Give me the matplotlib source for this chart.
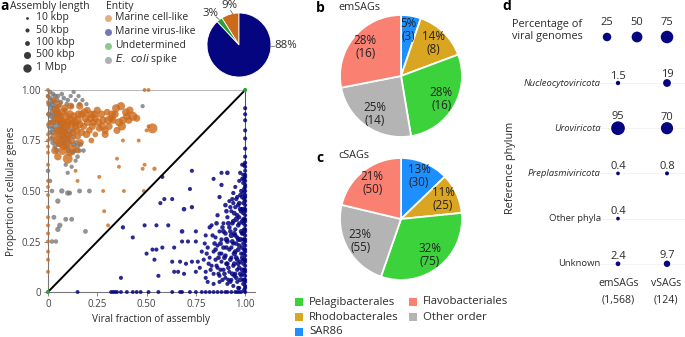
import matplotlib
matplotlib.use('Agg')
import matplotlib.pyplot as plt
import numpy as np

plt.rcParams['font.family'] = ['Open Sans', 'DejaVu Sans']

# ---------------- data ----------------
# panel a: (viral fraction, proportion cellular genes, assembly length kbp)
virus_pts = [
    # column at viral fraction = 1
    (1.0, 0.91, 50), (1.0, 0.88, 50), (1.0, 0.85, 50), (1.0, 0.80, 50), (1.0, 0.76, 50),
    (1.0, 0.71, 50), (1.0, 0.67, 50), (1.0, 0.64, 50), (1.0, 0.62, 50), (1.0, 0.60, 50),
    (1.0, 0.58, 50), (1.0, 0.57, 50), (1.0, 0.55, 50), (1.0, 0.53, 50), (1.0, 0.52, 50),
    (1.0, 0.50, 50), (1.0, 0.48, 50), (1.0, 0.47, 50), (1.0, 0.45, 50), (1.0, 0.43, 50),
    (1.0, 0.41, 50), (1.0, 0.40, 50), (1.0, 0.38, 50), (1.0, 0.36, 50), (1.0, 0.35, 50),
    (1.0, 0.33, 50), (1.0, 0.31, 50), (1.0, 0.30, 50), (1.0, 0.28, 50), (1.0, 0.26, 50),
    (1.0, 0.25, 50), (1.0, 0.23, 50), (1.0, 0.21, 50), (1.0, 0.20, 50), (1.0, 0.18, 50),
    (1.0, 0.16, 50), (1.0, 0.15, 50), (1.0, 0.13, 50), (1.0, 0.11, 50), (1.0, 0.10, 50),
    (1.0, 0.08, 50), (1.0, 0.06, 50), (1.0, 0.05, 50), (1.0, 0.03, 50), (1.0, 0.02, 50),
    (1.0, 0.0, 50),
    (0.99, 0.58, 50), (0.99, 0.54, 50), (0.99, 0.49, 50), (0.99, 0.44, 50), (0.99, 0.39, 50),
    (0.99, 0.34, 50), (0.99, 0.29, 50), (0.99, 0.24, 50), (0.99, 0.19, 50), (0.99, 0.14, 50),
    (0.99, 0.09, 50), (0.99, 0.04, 50),
    (0.995, 0.31, 60), (0.995, 0.21, 60), (0.995, 0.11, 60), (0.995, 0.01, 60), (0.995, 0.46, 60),
    (0.995, 0.51, 60), (0.995, 0.41, 60), (0.995, 0.56, 60), (0.995, 0.63, 60), (0.995, 0.36, 60),
    (0.995, 0.26, 60), (0.995, 0.16, 60), (0.995, 0.06, 60),
    # dense cloud
    (0.97, 0.44, 80), (0.95, 0.42, 60), (0.98, 0.40, 100), (0.93, 0.40, 50), (0.96, 0.38, 80),
    (0.91, 0.37, 60), (0.94, 0.35, 100), (0.97, 0.34, 60), (0.89, 0.34, 50), (0.92, 0.32, 80),
    (0.95, 0.31, 60), (0.98, 0.30, 100), (0.87, 0.30, 50), (0.90, 0.29, 80), (0.93, 0.28, 150),
    (0.96, 0.27, 60), (0.85, 0.27, 50), (0.88, 0.26, 60), (0.91, 0.25, 100), (0.94, 0.24, 60),
    (0.97, 0.23, 80), (0.86, 0.23, 50), (0.89, 0.22, 80), (0.92, 0.21, 60), (0.95, 0.20, 100),
    (0.98, 0.19, 60), (0.84, 0.20, 50), (0.87, 0.19, 60), (0.90, 0.18, 80), (0.93, 0.17, 60),
    (0.96, 0.16, 80), (0.82, 0.17, 50), (0.85, 0.16, 60), (0.88, 0.15, 50), (0.91, 0.14, 80),
    (0.94, 0.13, 60), (0.97, 0.12, 80), (0.83, 0.13, 50), (0.86, 0.12, 50), (0.89, 0.11, 60),
    (0.92, 0.10, 50), (0.95, 0.09, 60), (0.98, 0.08, 50), (0.87, 0.08, 50), (0.90, 0.07, 50),
    (0.93, 0.06, 50), (0.96, 0.05, 50), (0.91, 0.04, 50), (0.94, 0.03, 50), (0.97, 0.02, 50),
    (0.99, 0.36, 50), (0.99, 0.26, 50), (0.99, 0.16, 50), (0.99, 0.06, 50), (0.96, 0.47, 60),
    (0.92, 0.45, 50), (0.98, 0.50, 60), (0.95, 0.52, 50), (0.97, 0.55, 50), (0.90, 0.43, 80),
    (0.86, 0.38, 60), (0.83, 0.33, 50), (0.80, 0.28, 50), (0.81, 0.22, 60), (0.78, 0.20, 50),
    (0.80, 0.10, 50), (0.76, 0.15, 50), (0.94, 0.44, 60), (0.97, 0.37, 60), (0.95, 0.28, 80),
    (0.93, 0.22, 60), (0.96, 0.11, 60), (0.89, 0.30, 100), (0.85, 0.21, 80), (0.88, 0.19, 50),
    (0.985, 0.47, 80), (0.975, 0.41, 100), (0.965, 0.33, 80), (0.985, 0.29, 100), (0.955, 0.36, 150),
    (0.945, 0.29, 100), (0.975, 0.26, 150), (0.965, 0.21, 100), (0.985, 0.22, 80), (0.955, 0.17, 100),
    (0.975, 0.15, 80), (0.945, 0.19, 150), (0.935, 0.25, 100), (0.925, 0.30, 80), (0.915, 0.34, 100),
    (0.905, 0.22, 80), (0.895, 0.17, 100), (0.915, 0.12, 80), (0.935, 0.09, 100), (0.955, 0.07, 80),
    (0.975, 0.06, 80), (0.985, 0.11, 100), (0.965, 0.02, 60), (0.945, 0.14, 100), (0.925, 0.16, 80),
    (0.905, 0.26, 150), (0.885, 0.32, 80), (0.875, 0.24, 100), (0.865, 0.17, 80), (0.855, 0.13, 60),
    (0.895, 0.09, 80), (0.875, 0.11, 60), (0.915, 0.06, 60), (0.985, 0.35, 80), (0.975, 0.48, 60),
    (0.965, 0.43, 80), (0.955, 0.46, 60), (0.985, 0.56, 60), (0.975, 0.59, 60), (0.985, 0.63, 50),
    (0.945, 0.39, 100), (0.935, 0.34, 80), (0.925, 0.42, 60), (0.965, 0.26, 100), (0.955, 0.24, 80),
    (0.985, 0.17, 80), (0.975, 0.09, 80), (0.965, 0.14, 100), (0.945, 0.08, 60), (0.925, 0.05, 60),
    (0.905, 0.14, 80), (0.885, 0.06, 60), (0.865, 0.09, 60), (0.845, 0.24, 80), (0.835, 0.28, 60),
    (0.825, 0.11, 60), (0.815, 0.14, 60), (0.805, 0.19, 60), (0.795, 0.24, 50), (0.855, 0.34, 80),
    (0.935, 0.46, 60), (0.905, 0.40, 80), (0.985, 0.41, 80),
    # scattered
    (0.73, 0.60, 50), (0.58, 0.57, 50), (0.84, 0.56, 50), (0.88, 0.59, 50), (0.91, 0.59, 80),
    (0.72, 0.51, 50), (0.88, 0.53, 60), (0.87, 0.47, 60), (0.94, 0.49, 60), (0.63, 0.46, 50),
    (0.59, 0.46, 50), (0.57, 0.44, 50), (0.69, 0.41, 80), (0.73, 0.42, 60), (0.38, 0.32, 60),
    (0.49, 0.33, 50), (0.55, 0.33, 50), (0.61, 0.33, 50), (0.43, 0.27, 50), (0.68, 0.30, 80),
    (0.75, 0.30, 50), (0.82, 0.32, 60), (0.58, 0.22, 50), (0.64, 0.22, 50), (0.68, 0.25, 50),
    (0.71, 0.25, 50), (0.75, 0.25, 50), (0.55, 0.21, 50), (0.50, 0.19, 50), (0.53, 0.21, 50),
    (0.63, 0.15, 50), (0.67, 0.15, 50), (0.73, 0.15, 50), (0.70, 0.14, 50), (0.75, 0.10, 50),
    (0.66, 0.10, 50), (0.69, 0.09, 50), (0.64, 0.10, 50), (0.56, 0.08, 50), (0.37, 0.07, 50),
    (0.54, 0.16, 50), (0.77, 0.12, 50), (0.79, 0.16, 50), (0.80, 0.07, 50), (0.81, 0.05, 50),
    (0.84, 0.04, 50), (0.84, 0.09, 50), (0.87, 0.05, 50),
    # bottom row (no cellular genes)
    (0.15, 0.0, 40), (0.32, 0.0, 40), (0.33, 0.0, 40), (0.34, 0.0, 40), (0.35, 0.0, 40),
    (0.37, 0.0, 40), (0.40, 0.0, 40), (0.43, 0.0, 40), (0.45, 0.0, 40), (0.47, 0.0, 40),
    (0.51, 0.0, 40), (0.56, 0.0, 40), (0.63, 0.0, 40), (0.67, 0.0, 40), (0.68, 0.0, 40),
    (0.72, 0.0, 40), (0.75, 0.0, 40), (0.78, 0.0, 40), (0.80, 0.0, 40), (0.82, 0.0, 40),
    (0.84, 0.0, 40), (0.86, 0.0, 40), (0.88, 0.0, 40), (0.90, 0.0, 40), (0.91, 0.0, 40),
    (0.93, 0.0, 40), (0.95, 0.0, 40), (0.96, 0.0, 40), (0.97, 0.0, 40), (0.98, 0.0, 40),
]

cell_pts = [
    # column at viral fraction = 0
    (0.0, 1.00, 40), (0.0, 0.97, 40), (0.0, 0.94, 40), (0.0, 0.88, 40), (0.0, 0.83, 40),
    (0.0, 0.78, 40), (0.0, 0.75, 40), (0.0, 0.72, 40), (0.0, 0.69, 40), (0.0, 0.63, 40),
    (0.0, 0.55, 40), (0.0, 0.52, 40), (0.0, 0.48, 40), (0.0, 0.42, 40), (0.0, 0.37, 40),
    (0.0, 0.33, 40), (0.0, 0.29, 40), (0.0, 0.25, 40), (0.0, 0.20, 40), (0.0, 0.16, 40),
    (0.0, 0.10, 40),
    # top row and scattered
    (0.49, 1.0, 40), (0.51, 1.0, 40), (0.38, 0.75, 40), (0.46, 0.75, 40), (0.50, 0.80, 40),
    (0.51, 0.82, 40), (0.35, 0.66, 40), (0.36, 0.62, 40), (0.48, 0.61, 40), (0.49, 0.63, 40),
    (0.54, 0.61, 60), (0.26, 0.57, 40), (0.385, 0.50, 40), (0.486, 0.50, 40), (0.28, 0.50, 40),
    (0.285, 0.40, 40), (0.305, 0.33, 40), (0.15, 0.55, 40), (0.14, 0.60, 40),
    # main cloud
    (0.161, 0.92, 500), (0.20, 0.90, 400), (0.25, 0.90, 500), (0.27, 0.88, 700), (0.30, 0.89, 400),
    (0.34, 0.88, 600), (0.37, 0.92, 900), (0.32, 0.86, 500), (0.43, 0.87, 1400), (0.41, 0.85, 500),
    (0.38, 0.85, 700), (0.36, 0.84, 800), (0.35, 0.80, 500), (0.31, 0.82, 500), (0.29, 0.80, 500),
    (0.28, 0.85, 600), (0.26, 0.81, 400), (0.23, 0.84, 500), (0.22, 0.88, 600), (0.19, 0.86, 700),
    (0.17, 0.88, 600), (0.15, 0.85, 1000), (0.13, 0.87, 800), (0.11, 0.88, 900), (0.09, 0.87, 1100),
    (0.07, 0.89, 800), (0.05, 0.88, 1000), (0.04, 0.90, 700), (0.06, 0.85, 900), (0.08, 0.83, 800),
    (0.10, 0.84, 1000), (0.12, 0.83, 700), (0.14, 0.82, 600), (0.16, 0.83, 700), (0.18, 0.82, 500),
    (0.20, 0.84, 600), (0.21, 0.80, 400), (0.24, 0.78, 200), (0.05, 0.80, 700), (0.07, 0.78, 800),
    (0.09, 0.76, 500), (0.06, 0.74, 1600), (0.08, 0.72, 600), (0.12, 0.75, 500), (0.15, 0.77, 400),
    (0.17, 0.79, 500), (0.03, 0.77, 500), (0.05, 0.67, 600), (0.10, 0.66, 2000), (0.11, 0.69, 500),
    (0.15, 0.70, 200), (0.22, 0.75, 200), (0.02, 0.84, 300), (0.03, 0.95, 200), (0.29, 0.78, 500),
    (0.53, 0.81, 2000), (0.33, 0.85, 500), (0.40, 0.87, 600), (0.45, 0.86, 500), (0.24, 0.86, 500),
    (0.045, 0.86, 800), (0.075, 0.84, 1000), (0.095, 0.82, 900), (0.115, 0.85, 1100), (0.135, 0.84, 800),
    (0.155, 0.88, 700), (0.185, 0.89, 800), (0.215, 0.86, 700), (0.235, 0.88, 600), (0.255, 0.84, 800),
    (0.275, 0.82, 700), (0.305, 0.85, 900), (0.325, 0.88, 700), (0.345, 0.91, 800), (0.065, 0.80, 1000),
    (0.085, 0.79, 700), (0.105, 0.78, 800), (0.125, 0.79, 600), (0.145, 0.80, 700), (0.045, 0.75, 900),
    (0.075, 0.70, 1100), (0.125, 0.71, 700), (0.095, 0.73, 800), (0.035, 0.70, 600), (0.165, 0.74, 400),
    (0.195, 0.78, 600), (0.225, 0.82, 500), (0.085, 0.91, 600), (0.115, 0.92, 500), (0.055, 0.93, 500),
    (0.375, 0.82, 900), (0.395, 0.89, 700), (0.415, 0.90, 600),
]

spike_pts = [
    (0.00, 0.97, 80), (0.01, 0.99, 80), (0.01, 0.96, 100), (0.02, 0.95, 100), (0.02, 0.93, 150),
    (0.03, 0.94, 100), (0.03, 0.91, 150), (0.04, 0.92, 100), (0.04, 0.89, 150), (0.05, 0.90, 100),
    (0.05, 0.87, 150), (0.06, 0.88, 100), (0.02, 0.89, 150), (0.03, 0.86, 150), (0.06, 0.84, 150),
    (0.07, 0.86, 100), (0.07, 0.82, 150), (0.08, 0.80, 150), (0.09, 0.79, 150), (0.10, 0.81, 100),
    (0.11, 0.78, 150), (0.12, 0.80, 100), (0.13, 0.77, 100), (0.09, 0.76, 150), (0.11, 0.74, 100),
    (0.13, 0.73, 150), (0.15, 0.72, 100), (0.02, 0.81, 100), (0.01, 0.79, 100), (0.03, 0.82, 150),
    (0.04, 0.80, 100), (0.05, 0.78, 150), (0.01, 0.84, 100), (0.08, 0.96, 80), (0.07, 0.98, 80),
    (0.10, 0.95, 80), (0.12, 0.92, 80), (0.14, 0.95, 60), (0.16, 0.93, 80), (0.13, 0.99, 60),
    (0.05, 0.97, 100), (0.18, 0.70, 80), (0.16, 0.70, 80), (0.15, 0.67, 80), (0.14, 0.65, 60),
    (0.12, 0.62, 60), (0.09, 0.63, 60), (0.10, 0.59, 60),
    (0.005, 0.93, 150), (0.015, 0.91, 150), (0.025, 0.98, 100), (0.035, 0.97, 100), (0.045, 0.95, 150),
    (0.015, 0.87, 150), (0.025, 0.84, 200), (0.035, 0.88, 150), (0.045, 0.84, 200), (0.055, 0.82, 150),
    (0.065, 0.80, 200), (0.075, 0.77, 150), (0.085, 0.74, 200), (0.095, 0.72, 150), (0.105, 0.70, 150),
    (0.005, 0.82, 100), (0.015, 0.76, 100), (0.025, 0.74, 150), (0.035, 0.72, 100), (0.045, 0.70, 150),
    (0.055, 0.73, 150), (0.065, 0.76, 200), (0.075, 0.74, 150), (0.105, 0.76, 150), (0.125, 0.69, 150),
    (0.135, 0.70, 100), (0.145, 0.74, 100), (0.165, 0.73, 100), (0.005, 0.88, 150), (0.025, 0.79, 150),
    (0.055, 0.92, 100), (0.065, 0.94, 100), (0.095, 0.93, 80), (0.085, 0.90, 100), (0.115, 0.97, 60),
    (0.155, 0.97, 60), (0.175, 0.95, 60), (0.195, 0.93, 60),
    (0.48, 0.92, 60), (0.05, 0.45, 150), (0.07, 0.50, 150), (0.10, 0.49, 150), (0.16, 0.50, 100),
    (0.21, 0.50, 100), (0.11, 0.49, 100), (0.03, 0.37, 100), (0.06, 0.33, 150), (0.05, 0.31, 150),
    (0.09, 0.36, 100), (0.12, 0.36, 100), (0.19, 0.30, 100), (0.02, 0.25, 80), (0.04, 0.25, 80),
    (0.01, 0.55, 80), (0.02, 0.50, 80), (0.00, 0.60, 80),
]

undetermined_pts = [(0.0, 0.0, 50), (1.0, 1.0, 50)]

entity_share = [9, 3, 88]   # Marine cell-like, Undetermined, Marine virus-like

legend_lengths = [10, 50, 100, 500, 1000]
legend_length_labels = ['10 kbp', '50 kbp', '100 kbp', '500 kbp', '1 Mbp']

# panels b, c
orders = ['SAR86', 'Rhodobacterales', 'Pelagibacterales', 'Other order', 'Flavobacteriales']
order_colors = ['#1e8fff', '#daa520', '#3cd23c', '#b4b4b4', '#fa8072']
emsag_counts = [3, 8, 16, 14, 16]
csag_counts = [30, 25, 75, 55, 50]

# panel d
phyla = ['Nucleocytoviricota', 'Uroviricota', 'Preplasmiviricota', 'Other phyla', 'Unknown']
phyla_italic = [True, True, True, False, False]
emsag_pct = [1.5, 95, 0.4, 0.4, 2.4]
vsag_pct = [19, 70, 0.8, np.nan, 9.7]
emsag_pct_labels = ['1.5', '95', '0.4', '0.4', '2.4']
vsag_pct_labels = ['19', '70', '0.8', '', '9.7']
pct_legend = [25, 50, 75]

# ---------------- figure ----------------
W, H = 685, 337
fig = plt.figure(figsize=(W / 100, H / 100), dpi=100)


def px_axes(x0, y0, x1, y1):
    return fig.add_axes([x0 / W, 1 - y1 / H, (x1 - x0) / W, (y1 - y0) / H])


def len_to_s(kbp):
    d = 1.6 * np.asarray(kbp, dtype=float) ** 0.24
    return (d * 0.72) ** 2


def pct_to_s(p):
    d = 3 + 1.1 * np.sqrt(np.asarray(p, dtype=float))
    return (d * 0.72) ** 2


TXT = '#2b2b2b'
C_CELL = '#cc6a1c'
C_VIR = '#05057f'
C_SPIKE = '#707070'
C_UND = '#2ca02c'

# ---- panel a scatter ----
ax = px_axes(48, 90, 255, 292)
ax.set_xlim(0, 1.05)
ax.set_ylim(0, 1.0)
for sp in ['top', 'right']:
    ax.spines[sp].set_visible(False)
for sp in ['left', 'bottom']:
    ax.spines[sp].set_color('#777777')
    ax.spines[sp].set_linewidth(0.8)
ax.axhline(1.0, xmin=0, xmax=1 / 1.05, color='#bbbbbb', lw=0.8, zorder=0)
ax.axvline(1.0, color='#555555', lw=0.8, zorder=0)


def draw(pts, color, alpha, z):
    a = np.array(pts, dtype=float)
    ax.scatter(a[:, 0], a[:, 1], s=len_to_s(a[:, 2]), color=color, alpha=alpha,
               linewidths=0, clip_on=False, zorder=z)


draw(spike_pts, C_SPIKE, 0.75, 2)
draw(cell_pts, C_CELL, 0.8, 3)
draw(virus_pts, C_VIR, 0.85, 3)
ax.plot([0, 1], [0, 1], color='black', lw=1.4, zorder=4)
draw(undetermined_pts, C_UND, 1.0, 5)

ticks = [0, 0.25, 0.5, 0.75, 1.0]
tlabels = ['0', '0.25', '0.50', '0.75', '1.00']
ax.set_xticks(ticks, tlabels)
ax.set_yticks(ticks, tlabels)
ax.tick_params(length=3, width=0.6, color='#777777', labelsize=7, labelcolor='#444444', pad=2)
ax.set_xlabel('Viral fraction of assembly', fontsize=7.2, color=TXT, labelpad=3)
ax.set_ylabel('Proportion of cellular genes', fontsize=7.2, color=TXT, labelpad=3)

# ---- small entity pie ----
axp = px_axes(207, 13, 271, 77)
axp.pie(entity_share, colors=[C_CELL, C_UND, C_VIR], startangle=90, counterclock=True,
        wedgeprops=dict(edgecolor='white', linewidth=0.6))
axp.set_xlim(-1, 1)
axp.set_ylim(-1, 1)
axp.text(-0.31, 1.24, f'{entity_share[0]}%', fontsize=8.2, ha='center', va='center', color=TXT)
axp.plot([-0.26, -0.2], [1.08, 0.98], color='#555555', lw=0.5, clip_on=False)
axp.text(-0.9, 1.0, f'{entity_share[1]}%', fontsize=8.2, ha='center', va='center', color=TXT)
axp.plot([-0.72, -0.62], [0.88, 0.8], color='#555555', lw=0.5, clip_on=False)
axp.text(1.1, -0.03, f'{entity_share[2]}%', fontsize=8.2, ha='left', va='center', color=TXT)
axp.plot([1.0, 1.09], [-0.03, -0.03], color='#555555', lw=0.5, clip_on=False)


# ---- pies b, c ----
def order_pie(axx, counts):
    total = sum(counts)
    axx.pie(counts, colors=order_colors, startangle=90, counterclock=False,
            wedgeprops=dict(edgecolor='white', linewidth=1.3),
            autopct=lambda p: f'{round(p)}%\n({round(p * total / 100)})',
            pctdistance=0.76, textprops=dict(fontsize=8.4, color='#222222', linespacing=1.0))
    axx.set_xlim(-1, 1)
    axx.set_ylim(-1, 1)


axb = px_axes(340, 15, 462, 137)
order_pie(axb, emsag_counts)
axc = px_axes(340, 158, 462, 280)
order_pie(axc, csag_counts)

# ---- panel d ----
axd = px_axes(600, 60, 685, 275)
axd.set_xlim(-18 / 49, 67 / 49)
axd.set_ylim(4.248, -0.509)
axd.axis('off')
rows = np.arange(len(phyla))
for r in rows:
    axd.axhline(r, color='#f1f1f1', lw=0.6, zorder=0)
for xpos, vals, labs in [(0, emsag_pct, emsag_pct_labels), (1, vsag_pct, vsag_pct_labels)]:
    vals = np.array(vals, dtype=float)
    ok = ~np.isnan(vals)
    axd.scatter(np.full(ok.sum(), xpos), rows[ok], s=pct_to_s(vals[ok]),
                color=C_VIR, linewidths=0, clip_on=False, zorder=3)
    for r, v, lab in zip(rows, vals, labs):
        if np.isnan(v):
            continue
        rad_pt = (3 + 1.1 * np.sqrt(v)) * 0.72 / 2
        axd.annotate(lab, (xpos, r), xytext=(0, rad_pt - 0.5), textcoords='offset points',
                     ha='center', va='bottom', fontsize=8, color=TXT)
for r, name, it in zip(rows, phyla, phyla_italic):
    axd.text(-0.35, r, name, ha='right', va='center', fontsize=6.8, color=TXT,
             style='italic' if it else 'normal')
# size legend
leg_x = [-0.224, 0.388, 1.0]
axd.scatter(leg_x, [-1.018] * 3, s=pct_to_s(pct_legend), color=C_VIR, linewidths=0,
            clip_on=False, zorder=3)
for lx, p in zip(leg_x, pct_legend):
    axd.text(lx, -1.33, str(p), ha='center', va='center', fontsize=8, color=TXT)

# ---------------- overlay (text, legends) ----------------
ov = fig.add_axes([0, 0, 1, 1])
ov.set_xlim(0, W)
ov.set_ylim(H, 0)
ov.axis('off')

FS_LEG = 7.5
ov.text(0, 6, 'a', fontsize=10, fontweight='bold', va='center', ha='left', color='black')
ov.text(10, 6, 'Assembly length', fontsize=FS_LEG, va='center', color=TXT)
for i, (L, lab) in enumerate(zip(legend_lengths, legend_length_labels)):
    y = 17.5 + 12.5 * i
    ov.scatter([27], [y], s=len_to_s(L), color='#3a3a3a', linewidths=0)
    ov.text(36, y, lab, fontsize=FS_LEG, va='center', color=TXT)
ov.text(106, 6, 'Entity', fontsize=FS_LEG, va='center', color=TXT)
ent_cols = [C_CELL, C_VIR, C_UND, C_SPIKE]
ent_labels = ['Marine cell-like', 'Marine virus-like', 'Undetermined', None]
for i, (c, lab) in enumerate(zip(ent_cols, ent_labels)):
    y = 17.5 + 14 * i
    ov.scatter([108], [y], s=(7 * 0.72) ** 2, color=c, alpha=0.55, linewidths=0)
    if lab:
        ov.text(115, y, lab, fontsize=FS_LEG, va='center', color=TXT)
ov.text(115, 59.5, r'$\it{E.\ coli}$' + ' spike', fontsize=FS_LEG, va='center', color=TXT)

ov.text(316, 8, 'b', fontsize=10, fontweight='bold', va='center', color='black')
ov.text(338, 8, 'emSAGs', fontsize=7.8, va='center', color=TXT)
ov.text(316, 158, 'c', fontsize=10, fontweight='bold', va='center', color='black')
ov.text(338, 156, 'cSAGs', fontsize=7.8, va='center', color=TXT)

leg_pos = {'Pelagibacterales': (299, 302), 'Rhodobacterales': (299, 317), 'SAR86': (299, 332),
           'Flavobacteriales': (413, 302), 'Other order': (413, 317)}
for name, c in zip(orders, order_colors):
    x, y = leg_pos[name]
    ov.scatter([x], [y], marker='s', s=(8 * 0.72) ** 2, color=c, linewidths=0)
    ov.text(x + 10, y, name, fontsize=8.2, va='center', color=TXT)

ov.text(502, 6, 'd', fontsize=10, fontweight='bold', va='center', color='black')
ov.text(512, 24, 'Percentage of', fontsize=7.8, va='center', color=TXT)
ov.text(512, 37, 'viral genomes', fontsize=7.8, va='center', color=TXT)
ov.text(511, 168, 'Reference phylum', fontsize=7.8, rotation=90, ha='center', va='center', color=TXT)
ov.text(619, 283, 'emSAGs', fontsize=7.6, ha='center', va='center', color=TXT)
ov.text(618, 300, '(1,568)', fontsize=7.6, ha='center', va='center', color=TXT)
ov.text(666, 283, 'vSAGs', fontsize=7.6, ha='center', va='center', color=TXT)
ov.text(666, 300, '(124)', fontsize=7.6, ha='center', va='center', color=TXT)

fig.savefig('out.png', dpi=100)
